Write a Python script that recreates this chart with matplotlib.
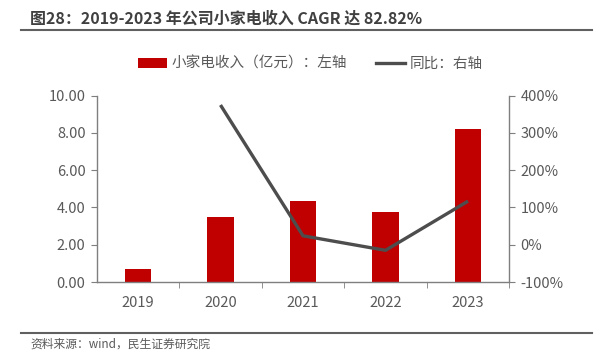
import matplotlib
matplotlib.use("Agg")
import matplotlib.pyplot as plt
from matplotlib.lines import Line2D
from matplotlib.patches import Patch

plt.rcParams['font.family'] = ['Noto Sans CJK SC', 'DejaVu Sans']

years = ["2019", "2020", "2021", "2022", "2023"]
revenue = [0.72, 3.47, 4.35, 3.76, 8.20]          # 小家电收入（亿元）
yoy_years = ["2020", "2021", "2022", "2023"]
yoy = [375, 24, -15, 117]                          # 同比 (%)
left_ticks = [0, 2, 4, 6, 8, 10]
right_ticks = [-100, 0, 100, 200, 300, 400]

title = "图28：2019-2023 年公司小家电收入 CAGR 达 82.82%"
source = "资料来源：wind，民生证券研究院"
bar_label = "小家电收入（亿元）：左轴"
line_label = "同比：右轴"

W, H = 608, 352
fig = plt.figure(figsize=(W / 100, H / 100), dpi=100)
ax = fig.add_axes([96.7 / W, 1 - 282 / H, (509.3 - 96.7) / W, (282 - 95.7) / H])
ax2 = ax.twinx()

txt = "#595959"
spine = "#7f7f7f"
red = "#C00000"
grey = "#4d4d4d"

x = list(range(len(years)))
ax.bar(x, revenue, width=0.32, color=red, zorder=2)
xi = [years.index(y) for y in yoy_years]
ax2.plot(xi, yoy, color=grey, lw=2.4, solid_capstyle='butt', zorder=3)

ax.set_xlim(-0.5, len(years) - 0.5)
ax.set_ylim(0, 10)
ax2.set_ylim(-100, 400)
ax.set_yticks(left_ticks)
ax.set_yticklabels([f"{v:.2f}" for v in left_ticks])
ax2.set_yticks(right_ticks)
ax2.set_yticklabels([f"{v}%" for v in right_ticks])

ax.set_xticks(x)
ax.set_xticklabels(years)
ax.set_xticks([i + 0.5 for i in x], minor=True)
ax.tick_params(axis='x', which='major', length=0, pad=10, labelsize=10.5, labelcolor=txt)
ax.tick_params(axis='x', which='minor', length=4, color=spine, direction='out')
ax.tick_params(axis='y', length=4, color=spine, labelsize=10.5, labelcolor=txt, pad=4)
ax2.tick_params(axis='y', length=4, color=spine, labelsize=10.5, labelcolor=txt, pad=4)

for a in (ax, ax2):
    a.spines['top'].set_visible(False)
    for s in ('left', 'right', 'bottom'):
        a.spines[s].set_color(spine)
        a.spines[s].set_linewidth(1.0)
ax.spines['right'].set_visible(False)
ax2.spines['left'].set_visible(False)
ax2.spines['bottom'].set_visible(False)
ax.set_zorder(1)
ax2.set_zorder(2)
ax2.patch.set_visible(False)

handles = [Patch(facecolor=red, edgecolor='none'),
           Line2D([0], [0], color=grey, lw=2.4)]
leg = fig.legend(handles, [bar_label, line_label], loc='center',
                 bbox_to_anchor=(310 / W, 1 - 64 / H), ncol=2, frameon=False,
                 fontsize=10.5, handlelength=2.0, handleheight=0.6,
                 handletextpad=0.3, columnspacing=2.0, labelcolor=txt)

fig.text(30 / W, 1 - 19 / H, title, fontsize=11.5, fontweight='bold',
         color="#404040", va='center', ha='left')
fig.add_artist(Line2D([21 / W, 592 / W], [1 - 30 / H, 1 - 30 / H],
                      color="#606060", lw=1.5))
fig.add_artist(Line2D([21 / W, 592 / W], [1 - 333 / H, 1 - 333 / H],
                      color="#606060", lw=1.5))
fig.text(30 / W, 1 - 344 / H, source, fontsize=8.5, color=txt,
         va='center', ha='left')

fig.savefig("out.png", dpi=100)
